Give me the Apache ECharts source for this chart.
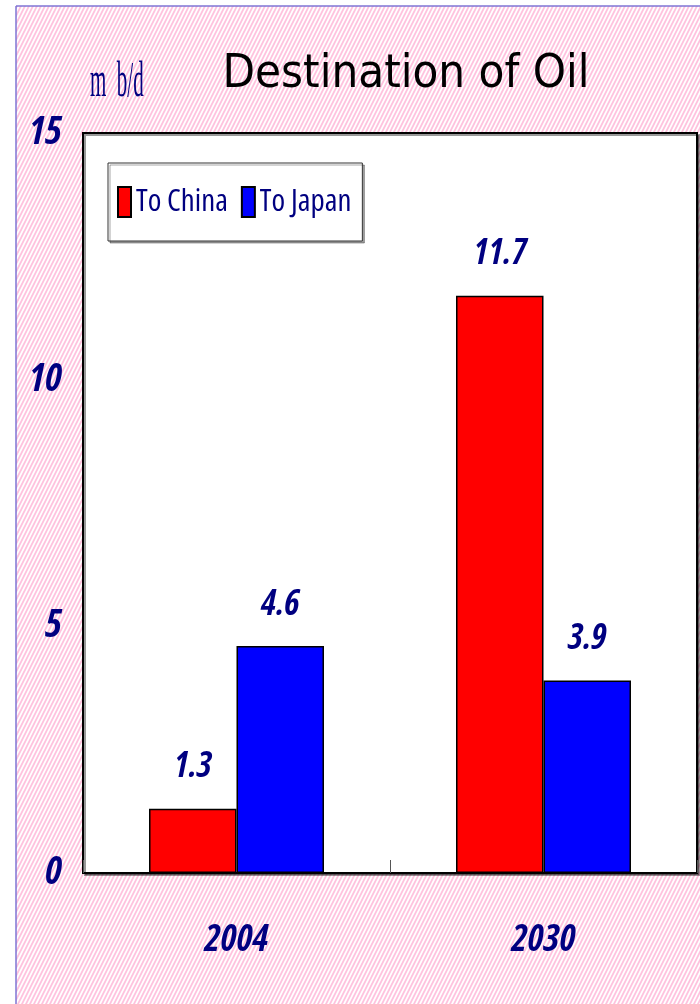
<!DOCTYPE html>
<html>
<head>
<meta charset="utf-8">
<script src="https://cdn.jsdelivr.net/npm/echarts@6/dist/echarts.min.js"></script>
<style>html,body{margin:0;padding:0;background:#fff}#c{width:700px;height:1004px}</style>
</head>
<body>
<div id="c"></div>
<script>
var categories = ['2004', '2030'];
var toChina = [1.3, 11.7];
var toJapan = [4.6, 3.9];
var seriesNames = ['To China', 'To Japan'];
var yTicks = { min: 0, max: 15, interval: 5 };

var NAVY = '#000080';
var NARROW = '"Open Sans", "DejaVu Sans Condensed", sans-serif';
var COND_BOLD = 'ultra-condensed bold';

// hatched pink background pattern (steep diagonal stripes)
var pc = document.createElement('canvas');
pc.width = 4; pc.height = 8;
var g = pc.getContext('2d');
g.fillStyle = '#FFFFFF';
g.fillRect(0, 0, 4, 8);
g.strokeStyle = '#FFC2DE';
g.lineWidth = 1.8;
g.beginPath();
g.moveTo(-1, 10); g.lineTo(5, -2);
g.moveTo(-5, 10); g.lineTo(1, -2);
g.moveTo(3, 10); g.lineTo(9, -2);
g.stroke();

var labelStyle = { color: NAVY, fontFamily: NARROW, fontWeight: COND_BOLD, fontStyle: 'italic' };

var chart = echarts.init(document.getElementById('c'), null, { renderer: 'canvas' });
chart.setOption({
  backgroundColor: { image: pc, repeat: 'repeat' },
  animation: false,
  title: {
    text: 'Destination of Oil',
    left: 401,
    top: 46,
    textAlign: 'center',
    textStyle: { fontFamily: '"DejaVu Sans Condensed", "DejaVu Sans", sans-serif', fontWeight: 'normal', fontSize: 47, color: '#000' }
  },
  graphic: [
    { type: 'rect', shape: { x: 0, y: 0, width: 700, height: 6 }, style: { fill: '#fff' }, silent: true },
    { type: 'rect', shape: { x: 0, y: 0, width: 16, height: 1004 }, style: { fill: '#fff' }, silent: true },
    { type: 'line', shape: { x1: 16, y1: 6, x2: 700, y2: 6 }, style: { stroke: '#7F74D4', lineWidth: 1.5 }, silent: true },
    { type: 'line', shape: { x1: 16, y1: 6, x2: 16, y2: 1004 }, style: { stroke: '#7F74D4', lineWidth: 1.5 }, silent: true },
    { type: 'text', x: 90, y: 58, scaleX: 0.42, style: { text: 'm  b/d', font: 'normal 50px "Liberation Serif", serif', fill: NAVY, textVerticalAlign: 'top' }, silent: true }
  ],
  legend: {
    data: seriesNames,
    left: 108,
    top: 163,
    orient: 'horizontal',
    padding: [23, 11, 23, 9],
    itemGap: 13,
    itemWidth: 13,
    itemHeight: 30,
    icon: 'rect',
    backgroundColor: '#fff',
    borderColor: '#333',
    borderWidth: 1,
    shadowColor: 'rgba(0,0,0,0.35)',
    shadowOffsetX: 2,
    shadowOffsetY: 2,
    textStyle: { fontFamily: NARROW, fontWeight: 'ultra-condensed', fontSize: 31, color: NAVY }
  },
  grid: {
    left: 83, top: 133, right: 3, bottom: 131,
    show: true,
    backgroundColor: '#fff',
    borderColor: '#000',
    borderWidth: 2,
    shadowColor: 'rgba(0,0,0,0.4)',
    shadowOffsetX: 2,
    shadowOffsetY: 2
  },
  xAxis: {
    type: 'category',
    data: categories,
    axisLine: { lineStyle: { color: '#000', width: 2 } },
    axisTick: { show: true, inside: true, length: 13, lineStyle: { color: '#555', width: 1 } },
    axisLabel: Object.assign({ margin: 49, fontSize: 37 }, labelStyle)
  },
  yAxis: {
    type: 'value',
    min: yTicks.min, max: yTicks.max, interval: yTicks.interval,
    axisLine: { show: false },
    axisTick: { show: false },
    splitLine: { show: false },
    axisLabel: Object.assign({ margin: 21, fontSize: 39 }, labelStyle)
  },
  series: [
    {
      name: seriesNames[0], type: 'bar', data: toChina,
      barGap: '0%', barCategoryGap: '43%',
      itemStyle: { color: '#FF0000', borderColor: '#000', borderWidth: 1.5 },
      label: Object.assign({ show: true, position: 'top', distance: 24, fontSize: 35 }, labelStyle)
    },
    {
      name: seriesNames[1], type: 'bar', data: toJapan,
      barGap: '0%', barCategoryGap: '43%',
      itemStyle: { color: '#0000FF', borderColor: '#000', borderWidth: 1.5 },
      label: Object.assign({ show: true, position: 'top', distance: 24, fontSize: 35 }, labelStyle)
    }
  ]
});
</script>
</body>
</html>
